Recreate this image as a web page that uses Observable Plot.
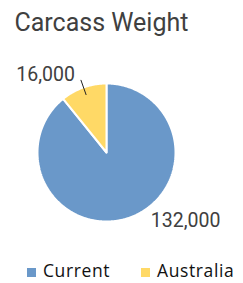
<!DOCTYPE html>
<html>
<head>
<meta charset="utf-8">
<script src="https://cdn.jsdelivr.net/npm/d3@7"></script>
<script src="https://cdn.jsdelivr.net/npm/@observablehq/plot@0.6"></script>
<style>
  html, body { margin: 0; padding: 0; background: #fff; }
  #wrap { position: relative; width: 243px; height: 283px; overflow: hidden; }
  #chart { position: absolute; left: 0; top: 0; }
  #legend { position: absolute; left: 27px; top: 260px; width: 216px; }
  #legend > div { min-height: 0 !important; margin: 0 !important; display: flex !important; flex-wrap: nowrap !important; white-space: nowrap !important; align-items: center !important;
    font-family: "Open Sans", sans-serif !important; font-size: 17.5px !important; letter-spacing: 0.6px !important; color: #111 !important; line-height: 20px !important; }
  #legend > div > span { margin-right: 31px !important; display: inline-flex !important; align-items: center !important; flex: none !important; font: inherit !important; letter-spacing: inherit !important; }
  #legend > div > span > svg { margin-right: 7px !important; position: relative; top: 2px; }
</style>
</head>
<body>
<div id="wrap"><div id="chart"></div><div id="legend"></div></div>
<script>
const title = "Carcass Weight";
const categories = ["Current", "Australia"];
const values = [132000, 16000];
const labels = ["132,000", "16,000"];
const colors = ["#6a98c9", "#ffd966"];

const arcs = d3.pie().sort(null).value(d => d)(values);
const pts = [];
arcs.forEach((a, i) => {
  const cat = categories[i];
  pts.push({cat, x: 0, y: 0});
  const n = Math.max(2, Math.ceil((a.endAngle - a.startAngle) / 0.01));
  for (let k = 0; k <= n; k++) {
    const t = a.startAngle + (a.endAngle - a.startAngle) * k / n;
    pts.push({cat, x: Math.sin(t), y: Math.cos(t)});
  }
  pts.push({cat, x: 0, y: 0});
});
const mids = arcs.map((a, i) => ({cat: categories[i], label: labels[i], m: (a.startAngle + a.endAngle) / 2}));
const leaders = [];
mids.filter(d => d.cat === "Australia").forEach(d => {
  leaders.push({cat: d.cat, x: 0.89 * Math.sin(d.m), y: 0.89 * Math.cos(d.m)});
  leaders.push({cat: d.cat, x: 1.11 * Math.sin(d.m), y: 1.11 * Math.cos(d.m)});
});

const chart = Plot.plot({
  width: 243,
  height: 256,
  margin: 0,
  style: {background: "#fff"},
  x: {domain: [-1, 1], range: [37, 175], axis: null},
  y: {domain: [-1, 1], range: [221, 83], axis: null},
  color: {domain: categories, range: colors},
  marks: [
    Plot.line(pts, {x: "x", y: "y", z: "cat", fill: "cat", stroke: "white", strokeWidth: 2, strokeLinejoin: "miter", curve: "linear"}),
    Plot.line(leaders, {x: "x", y: "y", z: "cat", stroke: "#222", strokeWidth: 1}),
    Plot.text(mids.filter(d => d.cat === "Australia"), {
      x: d => 1.2 * Math.sin(d.m), y: d => 1.2 * Math.cos(d.m), text: "label",
      textAnchor: "end", lineAnchor: "middle", dx: -4, dy: 0,
      fontFamily: "Roboto", fontSize: 19.5, fill: "#404040"
    }),
    Plot.text(mids.filter(d => d.cat === "Current"), {
      x: d => 1.1 * Math.sin(d.m), y: d => 1.1 * Math.cos(d.m), text: "label",
      textAnchor: "start", lineAnchor: "middle", dx: 19, dy: -3,
      fontFamily: "Roboto", fontSize: 19.5, fill: "#404040"
    }),
    Plot.text([title], {
      frameAnchor: "top-left", text: d => d, dx: 14, dy: 13,
      lineAnchor: "top", textAnchor: "start",
      fontFamily: "Roboto", fontSize: 25, fill: "#404040"
    })
  ]
});
document.getElementById("chart").appendChild(chart);

const legend = Plot.legend({
  color: {type: "ordinal", domain: categories, range: colors},
  legend: "swatches", swatchSize: 9, className: "lg"
});
document.getElementById("legend").appendChild(legend);
</script>
</body>
</html>
